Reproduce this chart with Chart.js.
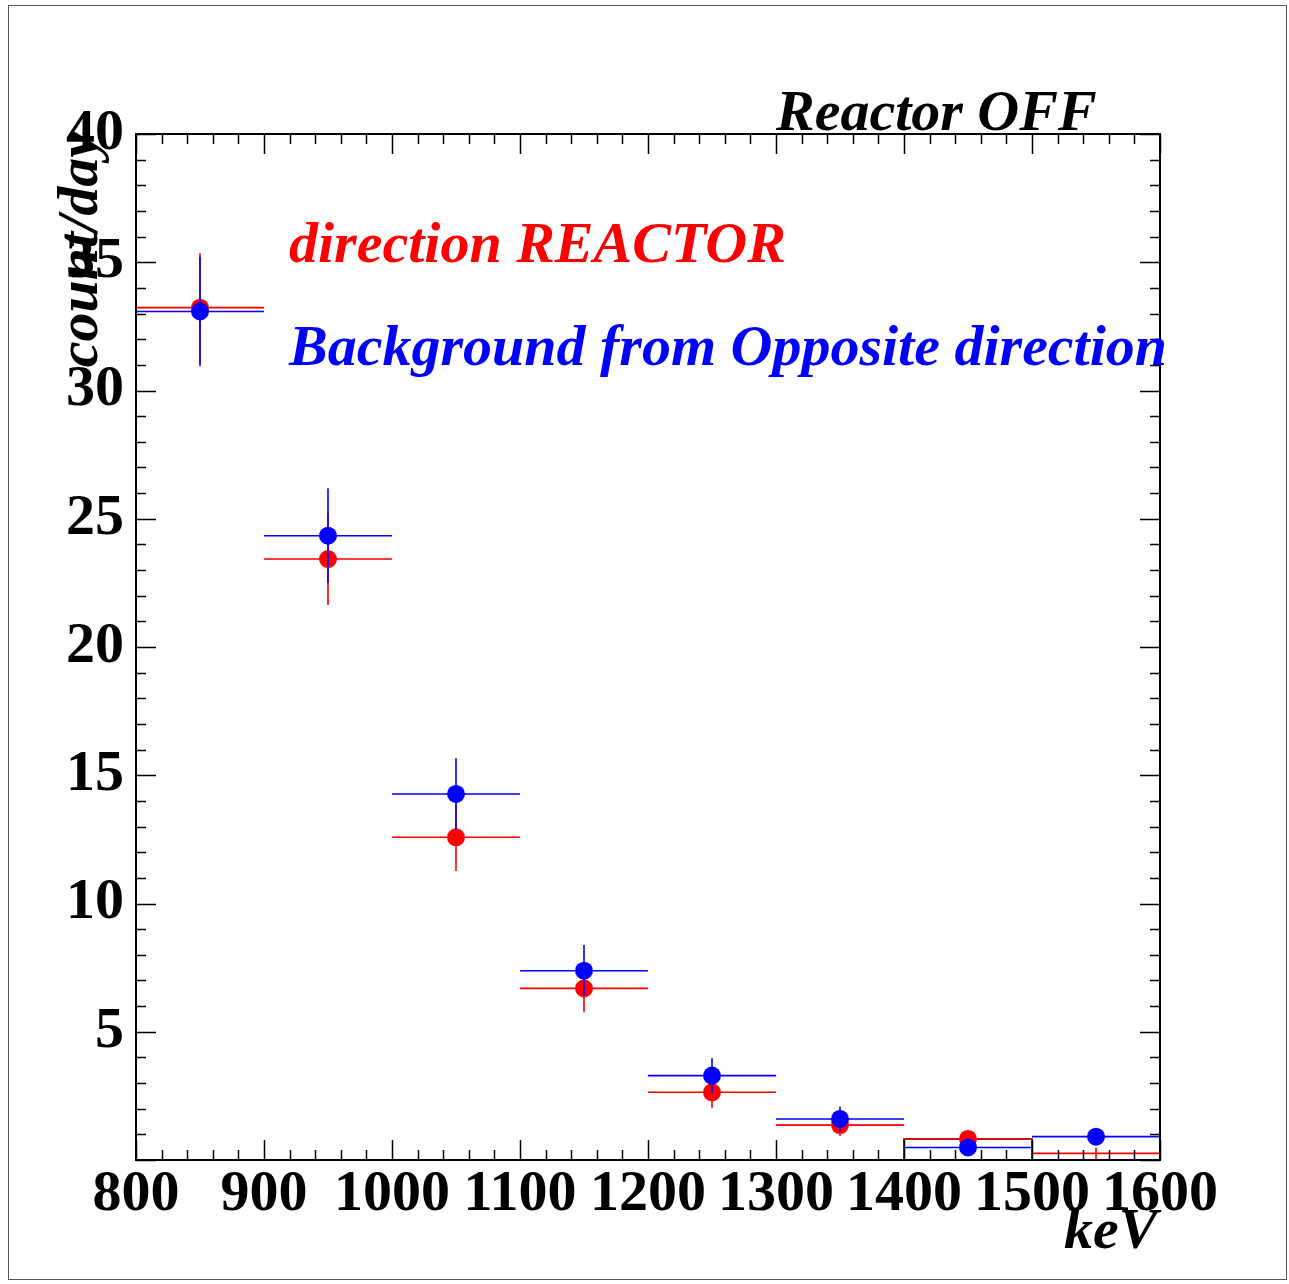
<!DOCTYPE html>
<html>
<head>
<meta charset="utf-8">
<script src="https://cdn.jsdelivr.net/npm/chart.js@4/dist/chart.umd.min.js"></script>
<style>
  html, body { margin: 0; padding: 0; background: #fff; }
  #wrap { width: 1289px; height: 1284px; position: relative; }
</style>
</head>
<body>
<div id="wrap"><canvas id="spectrum"></canvas></div>
<script>
// energy bins (keV) and rates in count/day
const binEdges = [800, 900, 1000, 1100, 1200, 1300, 1400, 1500, 1600];
const binCenters = [850, 950, 1050, 1150, 1250, 1350, 1450, 1550];
const reactorRate = [33.23, 23.43, 12.58, 6.69, 2.64, 1.36, 0.82, 0.26];
const reactorErr = [2.12, 1.79, 1.31, 0.93, 0.60, 0.42, 0.30, 0.22];
const oppositeRate = [33.08, 24.34, 14.27, 7.38, 3.29, 1.60, 0.49, 0.91];
const oppositeErr = [2.13, 1.85, 1.39, 1.00, 0.68, 0.48, 0.25, 0.30];
const xTicks = [800, 900, 1000, 1100, 1200, 1300, 1400, 1500, 1600];
const xTickLabels = ['800', '900', '1000', '1100', '1200', '1300', '1400', '1500', '1600'];
const yTicks = [0, 5, 10, 15, 20, 25, 30, 35, 40];
const yTickLabels = ['', '5', '10', '15', '20', '25', '30', '35', '40'];

const RED = '#ff0000';
const BLUE = '#0000ff';
const SERIF = '"Liberation Serif", "DejaVu Serif", serif';

function points(vals) {
    return binCenters.map((x, i) => ({ x: x, y: vals[i] }));
}

// the outlined bin around 1400-1500
const boxBin = 6;
const boxOutline = [
    { x: binEdges[boxBin], y: 0 },
    { x: binEdges[boxBin], y: reactorRate[boxBin] },
    { x: binEdges[boxBin + 1], y: reactorRate[boxBin] },
    { x: binEdges[boxBin + 1], y: 0 }
];

// horizontal bin-width bar + vertical error bar, drawn under each dataset's markers
const errorBars = {
    id: 'errorBars',
    beforeDatasetDraw(chart, args) {
        const ds = chart.data.datasets[args.index];
        if (!ds.yErr) return;
        const xs = chart.scales.x, ys = chart.scales.y;
        const area = chart.chartArea;
        const ctx = chart.ctx;
        ctx.save();
        ctx.beginPath();
        ctx.rect(area.left, area.top, area.right - area.left, area.bottom - area.top);
        ctx.clip();
        ctx.strokeStyle = ds.borderColor;
        ctx.lineWidth = 1.6;
        ds.data.forEach((p, i) => {
            const py = ys.getPixelForValue(p.y);
            const px = xs.getPixelForValue(p.x);
            ctx.beginPath();
            ctx.moveTo(xs.getPixelForValue(binEdges[i]), py);
            ctx.lineTo(xs.getPixelForValue(binEdges[i + 1]), py);
            ctx.moveTo(px, ys.getPixelForValue(p.y - ds.yErr[i]));
            ctx.lineTo(px, ys.getPixelForValue(p.y + ds.yErr[i]));
            ctx.stroke();
        });
        ctx.restore();
    }
};

// frame with inward ticks on all four sides
const frameTicks = {
    id: 'frameTicks',
    afterDatasetsDraw(chart) {
        const xs = chart.scales.x, ys = chart.scales.y;
        const a = chart.chartArea;
        const ctx = chart.ctx;
        ctx.save();
        ctx.strokeStyle = '#000';
        ctx.lineWidth = 1.5;
        ctx.beginPath();
        for (let v = xs.min; v <= xs.max + 0.01; v += 20) {
            const len = (v % 100 === 0) ? 20 : 10;
            const px = Math.round(xs.getPixelForValue(v)) + 0.5;
            ctx.moveTo(px, a.bottom); ctx.lineTo(px, a.bottom - len);
            ctx.moveTo(px, a.top); ctx.lineTo(px, a.top + len);
        }
        for (let v = ys.min; v <= ys.max + 0.01; v += 1) {
            const len = (v % 5 === 0) ? 20 : 10;
            const py = Math.round(ys.getPixelForValue(v)) + 0.5;
            ctx.moveTo(a.left, py); ctx.lineTo(a.left + len, py);
            ctx.moveTo(a.right, py); ctx.lineTo(a.right - len, py);
        }
        ctx.stroke();
        ctx.lineWidth = 2;
        ctx.strokeRect(a.left, a.top, a.right - a.left, a.bottom - a.top);
        ctx.restore();
    },
    afterDraw(chart) {
        const ctx = chart.ctx;
        ctx.save();
        // outer pad border
        ctx.strokeStyle = '#555';
        ctx.lineWidth = 1;
        ctx.strokeRect(8.5, 5.5, 1278, 1274);

        ctx.font = 'italic bold 58px ' + SERIF;
        ctx.textBaseline = 'alphabetic';
        ctx.textAlign = 'left';
        ctx.fillStyle = '#000';
        ctx.fillText('Reactor OFF', 776, 130);
        ctx.fillText('keV', 1064, 1248);
        ctx.fillStyle = RED;
        ctx.fillText('direction REACTOR', 289, 262);
        ctx.fillStyle = BLUE;
        ctx.fillText('Background from Opposite direction', 289, 365);

        // y axis title, right-aligned to the top of the frame
        ctx.fillStyle = '#000';
        ctx.translate(97, 132);
        ctx.rotate(-Math.PI / 2);
        ctx.textAlign = 'right';
        ctx.fillText('count/day', 0, 0);
        ctx.restore();
    }
};

const ctx = document.getElementById('spectrum').getContext('2d');
new Chart(ctx, {
    type: 'scatter',
    data: {
        datasets: [
            {
                label: 'direction REACTOR',
                data: points(reactorRate),
                yErr: reactorErr,
                borderColor: RED,
                backgroundColor: RED,
                pointRadius: [9, 9, 9, 9, 9, 9, 9, 0],
                pointBorderWidth: 0,
                order: 1
            },
            {
                label: 'Background from Opposite direction',
                data: points(oppositeRate),
                yErr: oppositeErr,
                borderColor: BLUE,
                backgroundColor: BLUE,
                pointRadius: 9,
                pointBorderWidth: 0,
                order: 0
            },
            {
                label: 'outline',
                type: 'line',
                data: boxOutline,
                borderColor: '#000',
                borderWidth: 1.5,
                pointRadius: 0,
                fill: false,
                order: 2
            }
        ]
    },
    options: {
        responsive: true,
        maintainAspectRatio: false,
        animation: false,
        layout: { padding: { top: 134, right: 129, left: 0, bottom: 0 } },
        plugins: {
            legend: { display: false },
            tooltip: { enabled: false }
        },
        scales: {
            x: {
                type: 'linear',
                min: 800,
                max: 1600,
                afterBuildTicks: (s) => { s.ticks = xTicks.map(v => ({ value: v })); },
                afterFit: (s) => { s.height = 124; },
                grid: { display: false, drawTicks: false },
                border: { display: false },
                ticks: {
                    padding: 0,
                    maxRotation: 0,
                    autoSkip: false,
                    color: '#000',
                    font: { family: SERIF, size: 58, weight: 'bold' },
                    callback: (v) => xTickLabels[xTicks.indexOf(v)]
                }
            },
            y: {
                min: 0,
                max: 40,
                afterBuildTicks: (s) => { s.ticks = yTicks.map(v => ({ value: v })); },
                afterFit: (s) => { s.width = 136; },
                grid: { display: false, drawTicks: false },
                border: { display: false },
                ticks: {
                    padding: 12,
                    autoSkip: false,
                    color: '#000',
                    font: { family: SERIF, size: 58, weight: 'bold' },
                    callback: (v) => yTickLabels[yTicks.indexOf(v)]
                }
            }
        }
    },
    plugins: [errorBars, frameTicks]
});
</script>
</body>
</html>
